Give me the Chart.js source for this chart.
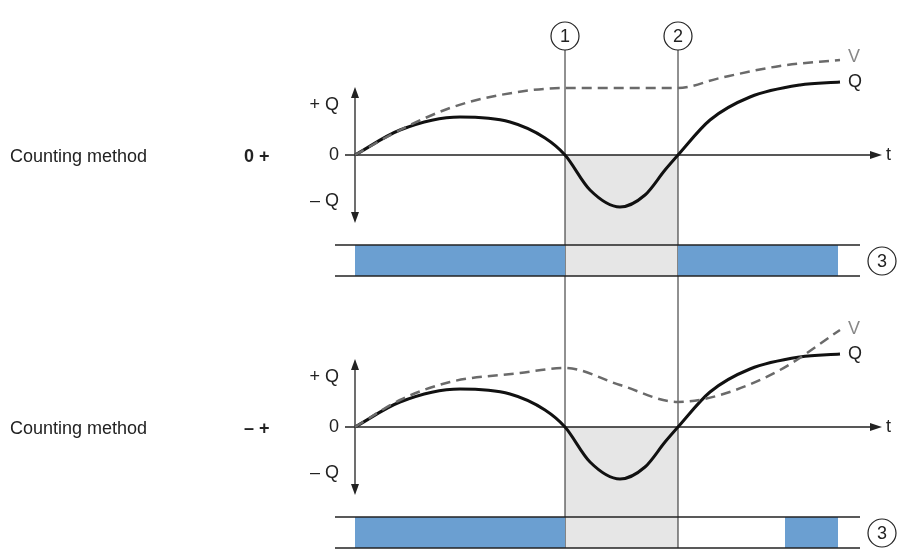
<!DOCTYPE html><html><head><meta charset="utf-8">
<script src="https://cdn.jsdelivr.net/npm/chart.js@4/dist/chart.umd.min.js"></script>
<style>html,body{margin:0;background:#fff}#w{width:915px;height:560px}</style></head><body><div id="w"><canvas id="c"></canvas></div>
<script>
// Diagram coordinate data (x: time axis units, y: diagram units)
const qTopX=[355,400,460,510,545,565,590,620,645,665,678,710,750,800,840];
const qTopY=[155,130,117,122,138,155,190,207,195,170,155,120,97,85,82];
const vTopX=[355,400,450,500,565,678,720,780,840];
const vTopY=[155,130,108,95,88,88,78,66,60];
const qBotX=[355,400,460,510,545,565,590,620,645,665,678,710,750,800,840];
const qBotY=[427,402,389,394,410,427,462,479,467,442,427,392,369,357,354];
const vBotX=[355,400,450,520,565,620,678,720,780,840];
const vBotY=[427,400,382,373,368,385,402,395,370,330];
const marks=[565,678];
const zeroLines=[155,427];
const barsTop=[[355,565],[678,838]];
const barsBot=[[355,565],[785,838]];
const methods=["Counting method","Counting method"];
const methodSymbols=["0 +","– +"];
const pts=(xs,ys)=>xs.map((x,i)=>({x,y:ys[i]}));
const F='"Liberation Sans",Arial,sans-serif';
const deco={id:'deco',
beforeDatasetsDraw(ch){const c=ch.ctx,X=v=>ch.scales.x.getPixelForValue(v),Y=v=>ch.scales.y.getPixelForValue(v);
 c.save();c.fillStyle='#e6e6e6';
 zeroLines.forEach(z=>c.fillRect(X(marks[0]),Y(z),X(marks[1])-X(marks[0]),Y(z+121)-Y(z)));
 c.strokeStyle='#222';c.lineWidth=1;
 marks.forEach(m=>{c.beginPath();c.moveTo(X(m),Y(50));c.lineTo(X(m),Y(548));c.stroke();});
 const panels=[[zeroLines[0],barsTop],[zeroLines[1],barsBot]];
 panels.forEach(([z,bars],i)=>{
  const b=z+90;
  c.fillStyle='#6b9fd1';bars.forEach(([a,e])=>c.fillRect(X(a),Y(b),X(e)-X(a),Y(b+31)-Y(b)));
  c.strokeStyle='#222';c.lineWidth=1.3;
  [b,b+31].forEach(y=>{c.beginPath();c.moveTo(X(335),Y(y));c.lineTo(X(860),Y(y));c.stroke();});
  // axes
  c.beginPath();c.moveTo(X(345),Y(z));c.lineTo(X(875),Y(z));c.moveTo(X(355),Y(z-65));c.lineTo(X(355),Y(z+65));c.stroke();
  c.fillStyle='#222';
  c.beginPath();c.moveTo(X(882),Y(z));c.lineTo(X(870),Y(z-4));c.lineTo(X(870),Y(z+4));c.fill();
  c.beginPath();c.moveTo(X(355),Y(z-68));c.lineTo(X(351),Y(z-57));c.lineTo(X(359),Y(z-57));c.fill();
  c.beginPath();c.moveTo(X(355),Y(z+68));c.lineTo(X(351),Y(z+57));c.lineTo(X(359),Y(z+57));c.fill();
  c.font='18px '+F;c.textBaseline='middle';c.textAlign='right';
  c.fillText('+ Q',X(339),Y(z-50));c.fillText('0',X(339),Y(z));c.fillText('– Q',X(339),Y(z+46));
  c.textAlign='left';c.fillText('t',X(886),Y(z));
  c.fillText(methods[i],X(10),Y(z+2));c.font='bold 18px '+F;c.fillText(methodSymbols[i],X(244),Y(z+2));
  c.font='18px '+F;c.fillText('Q',X(848),Y(z-73));
  c.fillStyle='#888';c.fillText('V',X(848),Y(z-98));
  c.fillStyle='#222';c.lineWidth=1.2;c.beginPath();c.arc(X(882),Y(b+16),14,0,7);c.stroke();
  c.textAlign='center';c.fillText('3',X(882),Y(b+17));
 });
 ['1','2'].forEach((t,i)=>{c.beginPath();c.arc(X(marks[i]),Y(36),14,0,7);c.fillStyle='#fff';c.fill();c.stroke();c.fillStyle='#222';c.textAlign='center';c.fillText(t,X(marks[i]),Y(37));});
 c.restore();}};
const ds=(d,col,w,dash)=>({data:d,borderColor:col,borderWidth:w,borderDash:dash,pointRadius:0,tension:0.4,cubicInterpolationMode:'monotone',showLine:true,fill:false});
new Chart(document.getElementById('c'),{type:'scatter',
data:{datasets:[ds(pts(vTopX,vTopY),'#6a6a6a',2.5,[10,6]),ds(pts(qTopX,qTopY),'#111',3,[]),ds(pts(vBotX,vBotY),'#6a6a6a',2.5,[10,6]),ds(pts(qBotX,qBotY),'#111',3,[])]},
options:{responsive:true,maintainAspectRatio:false,animation:false,layout:{padding:0},
plugins:{legend:{display:false},tooltip:{enabled:false}},
scales:{x:{type:'linear',min:0,max:915,display:false},y:{type:'linear',min:0,max:560,reverse:true,display:false}}},
plugins:[deco]});
</script></body></html>
